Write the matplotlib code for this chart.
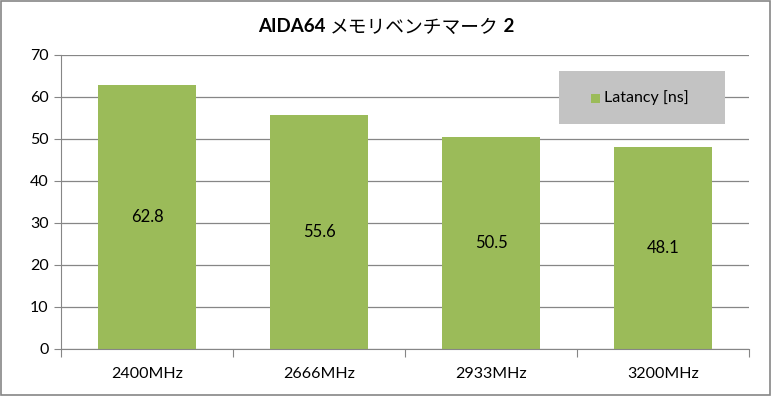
import matplotlib.pyplot as plt
from matplotlib.patches import Rectangle

# データ
categories = ["2400MHz", "2666MHz", "2933MHz", "3200MHz"]
latency = [62.8, 55.6, 50.5, 48.1]
series_label = "Latancy [ns]"
title_parts = [("AIDA64 ", "bold"), ("メモリベンチマーク", "normal"), (" 2", "bold")]
yticks = [0, 10, 20, 30, 40, 50, 60, 70]

plt.rcParams["font.family"] = ["Lato", "Noto Sans CJK JP", "DejaVu Sans"]

bar_color = "#9BBB59"
grid_color = "#868686"

fig = plt.figure(figsize=(7.72, 3.96), dpi=100)
ax = fig.add_axes([61 / 772, 47 / 396, 688 / 772, 294 / 396])

# 棒グラフ
x = list(range(len(categories)))
ax.bar(x, latency, width=0.565, color=bar_color, zorder=2)
for xi, v in zip(x, latency):
    ax.text(xi, v / 2, f"{v:.1f}", ha="center", va="center", fontsize=12, color="black", zorder=3)

ax.set_xlim(-0.5, len(categories) - 0.5)
ax.set_ylim(0, 70)
ax.set_yticks(yticks)
ax.set_yticklabels([str(t) for t in yticks], fontsize=11.5)
ax.yaxis.grid(True, color=grid_color, linewidth=0.9, zorder=0)
ax.set_axisbelow(True)

# x軸目盛り(カテゴリ境界)
ax.set_xticks([i - 0.5 for i in range(len(categories) + 1)])
ax.set_xticklabels([])
ax.set_xticks(x, minor=True)
ax.set_xticklabels(categories, minor=True, fontsize=11.5)
ax.tick_params(axis="x", which="major", length=6, color=grid_color, direction="out")
ax.tick_params(axis="x", which="minor", length=0, pad=13)
ax.tick_params(axis="y", length=5, color=grid_color, pad=4)

for side in ["top", "right"]:
    ax.spines[side].set_visible(False)
ax.spines["left"].set_color(grid_color)
ax.spines["bottom"].set_color(grid_color)

# 凡例
fig.add_artist(Rectangle((559 / 772, 1 - 124 / 396), 166 / 772, 53 / 396,
                         transform=fig.transFigure, facecolor="#C3C3C3", edgecolor="none", zorder=5))
fig.add_artist(Rectangle((591 / 772, 1 - 103 / 396), 9 / 772, 9 / 396,
                         transform=fig.transFigure, facecolor=bar_color, edgecolor="none", zorder=6))
fig.text(604 / 772, 1 - 98 / 396, series_label, fontsize=11.5, va="center", ha="left", zorder=6)

# タイトル(太字と標準を組み合わせて中央揃え)
renderer = fig.canvas.get_renderer()
texts = []
for s, w in title_parts:
    t = fig.text(0, 1 - 27 / 396, s, fontsize=13.5, fontweight=w, ha="left", va="center")
    texts.append(t)
widths = [t.get_window_extent(renderer).width for t in texts]
total = sum(widths)
x0 = (772 - total) / 2
for t, w in zip(texts, widths):
    t.set_x(x0 / 772)
    x0 += w

# 外枠
fig.add_artist(Rectangle((0.001, 0.002), 0.997, 0.995, transform=fig.transFigure,
                         facecolor="none", edgecolor=grid_color, linewidth=1.2))

fig.savefig("out.png", dpi=100)
plt.close(fig)
